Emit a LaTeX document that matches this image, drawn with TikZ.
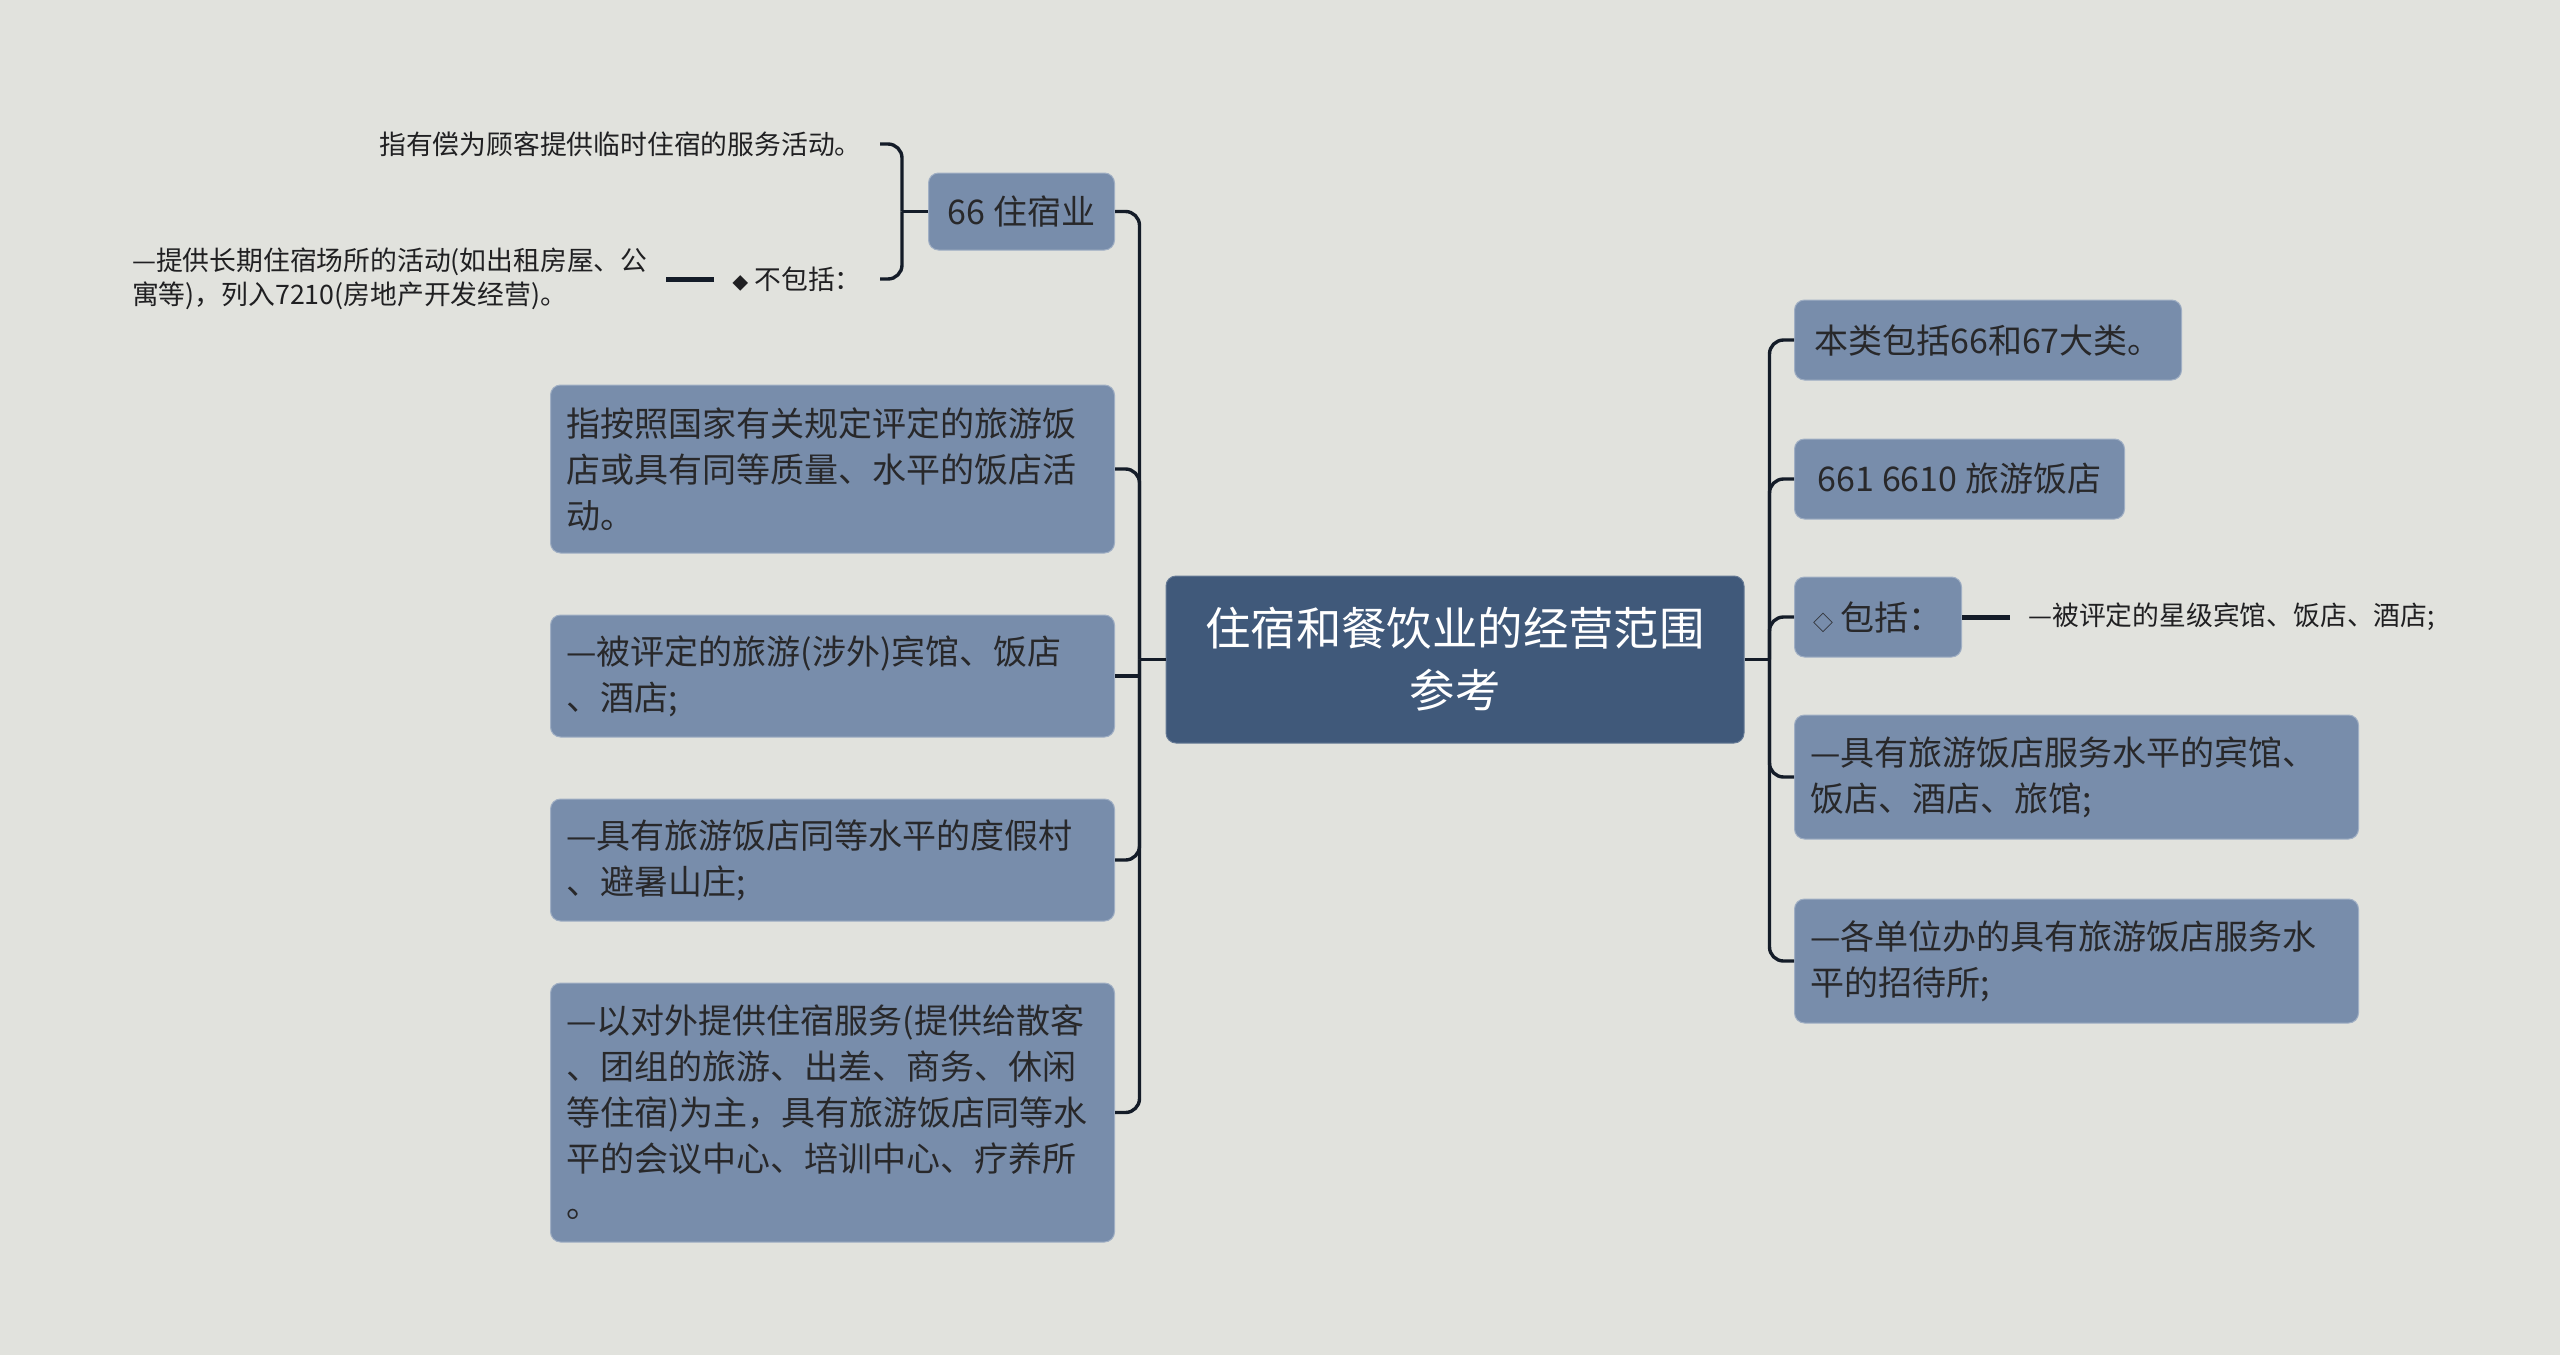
\documentclass[tikz,border=0pt]{standalone}
\usepackage{fontspec}
\setmainfont{Noto Sans CJK SC}
\usepackage{tikz}
\usetikzlibrary{positioning,calc}
\definecolor{bgcol}{RGB}{225,226,221}
\definecolor{boxcol}{RGB}{120,141,171}
\definecolor{rootcol}{RGB}{64,89,122}
\definecolor{linecol}{RGB}{20,28,40}
\definecolor{inkcol}{RGB}{40,40,42}

\begin{document}
\begin{tikzpicture}[
  x=0.5pt, y=-0.5pt,
  box/.style ={fill=boxcol, draw=boxcol!70!white, line width=0.5pt, rounded corners=5pt,
               text=inkcol, inner xsep=8pt, inner ysep=4pt, align=left,
               font=\fontsize{17}{23}\selectfont},
  wide/.style={box, text width=266pt},
  root/.style={fill=rootcol, draw=rootcol!80!white, line width=0.5pt, rounded corners=5pt,
               text=white, align=center, minimum width=289pt, minimum height=83.5pt,
               font=\fontsize{22.7}{31}\selectfont},
  note/.style={text=inkcol!80!black, inner xsep=9pt, inner ysep=2pt, align=left,
               font=\fontsize{13.4}{17.2}\selectfont},
  link/.style={draw=linecol, line width=1.7pt, rounded corners=7pt},
  bar/.style ={draw=linecol, line width=2.5pt}
]
\fill[bgcol] (0,0) rectangle (2560,1355);
\useasboundingbox (0,0) rectangle (2560,1355);

\node[root] (root) at (1455,659.5) {住宿和餐饮业的经营范围\\参考};

% right side
\node[box, anchor=west, minimum width=193.5pt, minimum height=40pt] (cls) at (1794,340) {本类包括66和67大类。};
\node[box, minimum width=165pt, minimum height=40pt, below=29pt of cls.south west, anchor=north west] (hotel) {661 6610 旅游饭店};
\node[box, minimum width=83.5pt, minimum height=40pt, below=28.5pt of hotel.south west, anchor=north west] (incl)
  {{\fontsize{10}{10}\selectfont ◇}\ 包括：};
\node[wide, minimum height=62pt, below=28.5pt of incl.south west, anchor=north west] (inn)
  {—具有旅游饭店服务水平的宾馆、\\饭店、酒店、旅馆;};
\node[wide, minimum height=62pt, below=29.5pt of inn.south west, anchor=north west] (guest)
  {—各单位办的具有旅游饭店服务水\\平的招待所;};
\node[note, right=24pt of incl] (star) {—被评定的星级宾馆、饭店、酒店;};

% left side
\node[box, anchor=east, minimum width=93pt, minimum height=38.5pt] (lodge) at (1115,211.5) {66 住宿业};
\node[wide, anchor=east, minimum height=84pt] (rated) at (1115,469)
  {指按照国家有关规定评定的旅游饭\\店或具有同等质量、水平的饭店活\\动。};
\node[wide, minimum height=61pt, below=30.5pt of rated.south east, anchor=north east] (foreign)
  {—被评定的旅游(涉外)宾馆、饭店\\、酒店;};
\node[wide, minimum height=61pt, below=30.5pt of foreign.south east, anchor=north east] (resort)
  {—具有旅游饭店同等水平的度假村\\、避暑山庄;};
\node[wide, minimum height=129.5pt, below=30.5pt of resort.south east, anchor=north east] (center)
  {—以对外提供住宿服务(提供给散客\\、团组的旅游、出差、商务、休闲\\等住宿)为主，具有旅游饭店同等水\\平的会议中心、培训中心、疗养所\\。};

\node[note, anchor=east] (paid) at (880,144) {指有偿为顾客提供临时住宿的服务活动。};
\node[note, anchor=east] (excl) at (880,279) {{\fontsize{8}{8}\selectfont ◆}\ 不包括：};
\node[note, left=24pt of excl] (rent)
  {—提供长期住宿场所的活动(如出租房屋、公\\寓等)，列入7210(房地产开发经营)。};

% connectors
\coordinate (lj) at ($(root.west)+(-13pt,0)$);
\coordinate (rj) at ($(root.east)+(12.5pt,0)$);
\coordinate (bj) at ($(lodge.west)+(-13pt,0)$);

\draw[link] (root.west) -- (lj);
\draw[link] (lj) |- (lodge.east);
\draw[link] (lj) |- (rated.east);
\draw[link, sharp corners] (lj) |- (foreign.east);
\draw[link] (lj) |- (resort.east);
\draw[link] (lj) |- (center.east);

\draw[link] (root.east) -- (rj);
\foreach \n in {cls,hotel,incl,inn,guest}
  \draw[link] (rj) |- (\n.west);

\draw[link] (lodge.west) -- (bj);
\draw[link] (bj) |- (paid.east);
\draw[link] (bj) |- (excl.east);

\draw[bar] (excl.west) -- (rent.east);
\draw[bar] (incl.east) -- (star.west);
\end{tikzpicture}
\end{document}
